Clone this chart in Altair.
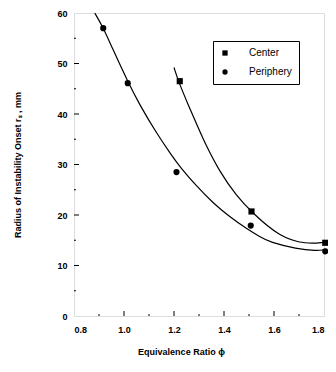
import altair as alt
import pandas as pd

# Measured points
per_x = [0.917, 1.015, 1.21, 1.507, 1.805]
per_y = [57.0, 46.1, 28.5, 17.9, 12.8]
cen_x = [1.223, 1.51, 1.805]
cen_y = [46.5, 20.7, 14.5]

# Fitted curves
per_cx = [0.883, 0.916, 0.95, 1.016, 1.063, 1.13, 1.196, 1.223, 1.29, 1.356, 1.423, 1.49, 1.543, 1.583, 1.69, 1.77, 1.80]
per_cy = [60.0, 57.2, 53.4, 46.3, 41.8, 36.2, 31.4, 29.6, 25.7, 22.4, 19.6, 17.3, 15.7, 14.6, 13.3, 12.9, 13.1]
cen_cx = [1.20, 1.216, 1.256, 1.296, 1.323, 1.383, 1.45, 1.51, 1.623, 1.73, 1.80]
cen_cy = [49.2, 46.7, 41.9, 37.4, 34.3, 28.5, 23.8, 20.6, 15.6, 14.2, 14.6]

x_ticks = [0.8, 1.0, 1.2, 1.4, 1.6, 1.8]
y_ticks = [0, 10, 20, 30, 40, 50, 60]
x_major_in = [1.0, 1.2, 1.4, 1.6]
x_minor_in = [0.9, 1.1, 1.3, 1.5, 1.7]
y_major_in = [10, 20, 30, 40, 50]
y_minor_in = [5, 15, 25, 35, 45, 55]

pts = pd.DataFrame({
    "x": cen_x + per_x,
    "y": cen_y + per_y,
    "series": ["Center"] * len(cen_x) + ["Periphery"] * len(per_x),
})
curves = pd.DataFrame({
    "x": per_cx + cen_cx,
    "y": per_cy + cen_cy,
    "series": ["Periphery"] * len(per_cx) + ["Center"] * len(cen_cx),
})

W, H = 250, 303
FONT = "Liberation Sans"

xs = alt.Scale(domain=[0.8, 1.8], nice=False, zero=False)
ys = alt.Scale(domain=[0, 60], nice=False)

xax = alt.Axis(values=x_ticks, format=".1f", ticks=False, grid=False, domain=False,
               labelPadding=9, titlePadding=13, titleX=107,
               labelFont=FONT, labelFontSize=9, labelFontWeight="bold", labelColor="black",
               titleFont=FONT, titleFontSize=9, titleFontWeight="bold", titleColor="black")
yax = alt.Axis(values=y_ticks, ticks=False, grid=False, domain=False,
               labelPadding=7, titlePadding=34,
               labelFont=FONT, labelFontSize=9, labelFontWeight="bold", labelColor="black",
               titleFont=FONT, titleFontSize=9, titleFontWeight="bold", titleColor="black")

lines = alt.Chart(curves).mark_line(color="black", strokeWidth=1.2, interpolate="basis").encode(
    x=alt.X("x:Q", scale=xs, axis=xax, title="Equivalence Ratio ϕ"),
    y=alt.Y("y:Q", scale=ys, axis=yax, title="Radius of Instability Onset rₛ ,  mm"),
    detail="series:N",
)

points = alt.Chart(pts).mark_point(filled=True, color="black", opacity=1, size=38).encode(
    x=alt.X("x:Q", scale=xs),
    y=alt.Y("y:Q", scale=ys),
    shape=alt.Shape("series:N",
                    scale=alt.Scale(domain=["Center", "Periphery"], range=["square", "circle"]),
                    legend=alt.Legend(title=None, orient="none", legendX=139, legendY=28,
                                      strokeColor="black", fillColor="white", padding=7,
                                      symbolSize=28, symbolFillColor="black", symbolStrokeColor="black",
                                      symbolStrokeWidth=0,
                                      labelFont=FONT, labelFontSize=10, labelColor="black",
                                      labelOffset=19, rowPadding=9,
                                      symbolOffset=0)),
)

xt_major = alt.Chart(pd.DataFrame({"x": x_major_in})).mark_rule(color="black", strokeWidth=1).encode(
    x=alt.X("x:Q", scale=xs), y=alt.value(H), y2=alt.value(H - 5))
xt_minor = alt.Chart(pd.DataFrame({"x": x_minor_in})).mark_rule(color="black", strokeWidth=1).encode(
    x=alt.X("x:Q", scale=xs), y=alt.value(H), y2=alt.value(H - 2))
yt_major = alt.Chart(pd.DataFrame({"y": y_major_in})).mark_rule(color="black", strokeWidth=1).encode(
    y=alt.Y("y:Q", scale=ys), x=alt.value(0), x2=alt.value(5))
yt_minor = alt.Chart(pd.DataFrame({"y": y_minor_in})).mark_rule(color="black", strokeWidth=1).encode(
    y=alt.Y("y:Q", scale=ys), x=alt.value(0), x2=alt.value(2))

chart = alt.layer(lines, xt_major, xt_minor, yt_major, yt_minor, points).properties(
    width=W, height=H,
    autosize=alt.AutoSizeParams(type="none"),
    padding={"left": 66, "top": 5, "right": 4, "bottom": 48},
).configure_view(stroke="black", strokeWidth=1.3).configure(background="white")

chart.save("out.html", embed_options={"renderer": "svg", "actions": False})
